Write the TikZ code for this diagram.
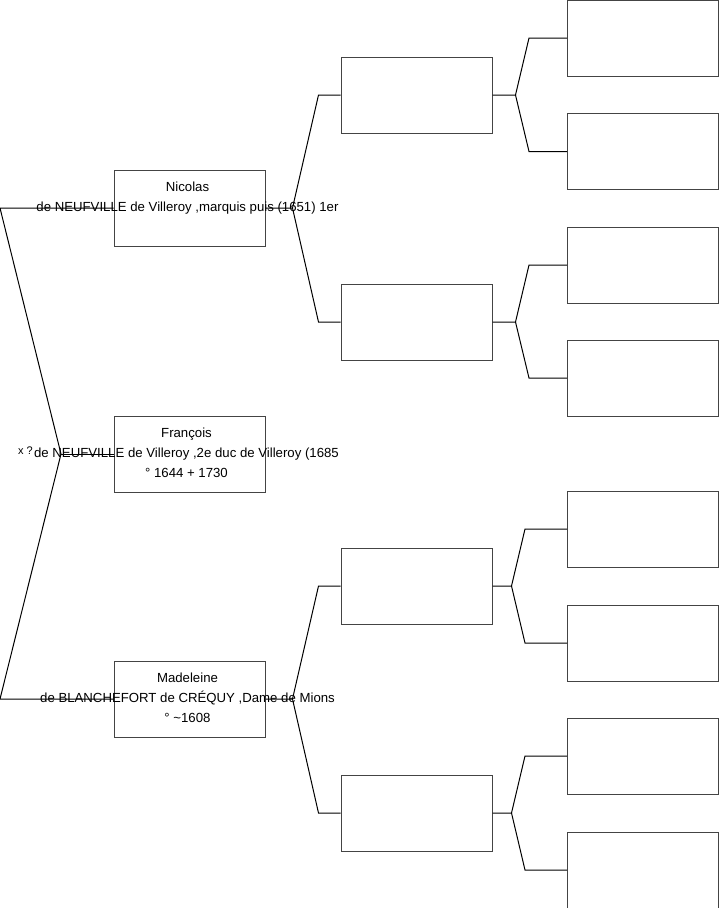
\documentclass[tikz,border=0pt]{standalone}
\usepackage{fontspec}
\setmainfont{Liberation Sans}
\usetikzlibrary{positioning,calc}
\definecolor{boxline}{HTML}{444444}

\begin{document}
\begin{tikzpicture}[
      x=1pt, y=-1pt,
      font=\fontsize{13.2}{20}\selectfont,
      person/.style={draw=boxline, line width=1pt, minimum width=151pt,
                     minimum height=76pt, inner sep=0pt},
      who/.style={anchor=north, align=center, inner sep=0pt},
      link/.style={draw=black, line width=1pt}
    ]
    \useasboundingbox (0,0) rectangle (719,908);
    % ------------- generation 1 -------------
    \node[person] (nic) at (189.5,208) {};
    \node[person] (fra) at (189.5,454) {};
    \node[person] (mad) at (189.5,699) {};
    \node[who] (nicT) at ($(nic.north)+(-2,12.5)$)
      {Nicolas\\de NEUFVILLE de Villeroy ,marquis puis (1651) 1er};
    \node[who] (fraT) at ($(fra.north)+(-3,12.5)$)
      {François\\de NEUFVILLE de Villeroy ,2e duc de Villeroy (1685\\° 1644 + 1730};
    \node[who] (madT) at ($(mad.north)+(-2,12.5)$)
      {Madeleine\\de BLANCHEFORT de CRÉQUY ,Dame de Mions\\° \textasciitilde1608};
    % ------------- generation 2 -------------
    \node[person] (g1) at (416.5,95) {};
    \node[person] (g2) at (416.5,322) {};
    \node[person] (g3) at (416.5,586) {};
    \node[person] (g4) at (416.5,813) {};
    % ------------- generation 3 -------------
    \node[person] (h1) at (643,38) {};
    \node[person] (h2) at (643,151.5) {};
    \node[person] (h3) at (643,265) {};
    \node[person] (h4) at (643,378) {};
    \node[person] (h5) at (643,529) {};
    \node[person] (h6) at (643,643) {};
    \node[person] (h7) at (643,756) {};
    \node[person] (h8) at (643,870) {};
    % ------------- marriage -------------
    \coordinate (mL) at (61,454);
    \coordinate (nicL) at (0,208);
    \coordinate (madL) at (0,699);
    \draw[link] (nic.west) -- (nicL) -- (mL) -- (madL) -- (mad.west);
    \draw[link] (mL) -- (fra.west);
    \node[anchor=base east, inner sep=0pt, font=\fontsize{11}{13}\selectfont]
      (wed) at (33,454) {x ?};
    % ------------- parents -------------
    \foreach \p/\a/\b/\u/\w in {nic/g1/g2/27/22, mad/g3/g4/27/22,
                                g1/h1/h2/23/38, g2/h3/h4/23/38,
                                g3/h5/h6/19/42, g4/h7/h8/19/42}{
      \draw[link] (\p.east) -- ++(\u,0) coordinate (v\p)
        -- ($(\a.west)+(-\w,0)$) -- (\a.west);
      \draw[link] (v\p) -- ($(\b.west)+(-\w,0)$) -- (\b.west);
    }
  \end{tikzpicture}
\end{document}
